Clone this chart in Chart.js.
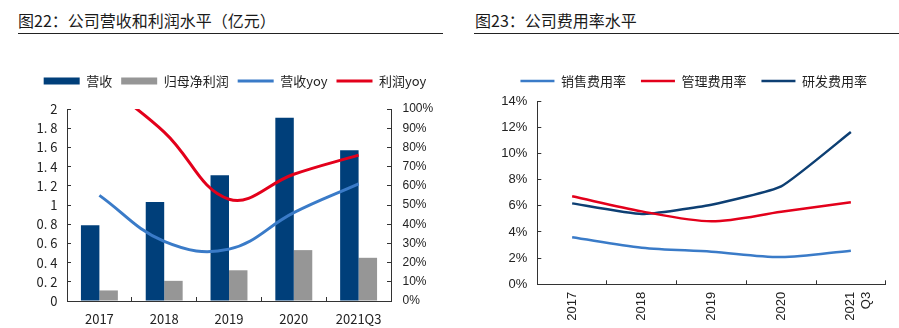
<!DOCTYPE html>
<html>
<head>
<meta charset="utf-8">
<script src="https://cdn.jsdelivr.net/npm/chart.js@4.4.1/dist/chart.umd.min.js"></script>
<style>
  body { margin: 0; background: #fff; width: 899px; height: 328px; position: relative; overflow: hidden; font-family: "Noto Sans CJK SC", sans-serif; }
  .title { position: absolute; top: 8px; font-size: 16px; color: #1a1a1a; white-space: nowrap; }
  .rule { position: absolute; top: 33px; height: 0; border-top: 1.5px solid #222; }
  .box { position: absolute; top: 40px; }
</style>
</head>
<body>
<div class="title" style="left:18px">图22：公司营收和利润水平（亿元）</div>
<div class="rule" style="left:18px;width:425px"></div>
<div class="title" style="left:475px">图23：公司费用率水平</div>
<div class="rule" style="left:474px;width:425px"></div>

<div class="box" style="left:0;width:450px;height:288px"><canvas id="left" width="450" height="288"></canvas></div>
<div class="box" style="left:450px;width:449px;height:288px"><canvas id="right" width="449" height="288"></canvas></div>

<script>
// 图22 data
const years = ['2017', '2018', '2019', '2020', '2021Q3'];
const revenue = [0.79, 1.03, 1.31, 1.91, 1.57];
const netProfit = [0.11, 0.21, 0.32, 0.53, 0.45];
const revenueYoy = [0.55, 0.31, 0.27, 0.46, 0.61];
const profitYoy = [1.15, 0.88, 0.53, 0.66, 0.76];

// 图23 data
const expYears = ['2017', '2018', '2019', '2020', ['2021', 'Q3']];
const salesRate = [0.0359, 0.0279, 0.0249, 0.0208, 0.0257];
const adminRate = [0.0672, 0.0557, 0.0481, 0.0554, 0.0626];
const rdRate = [0.0618, 0.0537, 0.0608, 0.0748, 0.1163];

const navy = '#003f7a';
const grey = '#969696';
const blue = '#3a7bc8';
const red = '#e3001b';
const darkBlue = '#0d3f73';
const axisColor = '#333';
const cjk = '"Noto Sans CJK SC", sans-serif';
const arial = '"Liberation Sans", Arial, sans-serif';

Chart.defaults.animation = false;
Chart.defaults.color = '#222';

// empty top axis, only used to push the plot area down under the legend
const spacer = h => ({
  type: 'category', position: 'top',
  grid: { display: false }, border: { display: false }, ticks: { display: false },
  afterFit: s => { s.height = h; }
});

new Chart(document.getElementById('left'), {
  type: 'bar',
  data: {
    labels: years,
    datasets: [
      { label: '营收', data: revenue, backgroundColor: navy, pointStyle: 'rect', order: 1, xAxisID: 'x', yAxisID: 'y' },
      { label: '归母净利润', data: netProfit, backgroundColor: grey, pointStyle: 'rect', order: 1, xAxisID: 'x', yAxisID: 'y' },
      { label: '营收yoy', type: 'line', data: revenueYoy, borderColor: blue, borderWidth: 3, tension: 0.4,
        pointRadius: 0, pointBorderWidth: 3, pointStyle: 'line', order: 0, xAxisID: 'x', yAxisID: 'y1' },
      { label: '利润yoy', type: 'line', data: profitYoy, borderColor: red, borderWidth: 3, tension: 0.4,
        pointRadius: 0, pointBorderWidth: 3, pointStyle: 'line', order: 0, xAxisID: 'x', yAxisID: 'y1' }
    ]
  },
  options: {
    responsive: false,
    layout: { padding: { top: 25.5, left: 20, right: 0, bottom: 0 } },
    datasets: { bar: { barPercentage: 1, categoryPercentage: 0.57 } },
    plugins: {
      tooltip: { enabled: false },
      legend: {
        labels: {
          font: { family: cjk, size: 13 }, color: '#222', usePointStyle: true, pointStyleWidth: 36, boxHeight: 7, padding: 9,
          sort: (a, b) => a.datasetIndex - b.datasetIndex
        }
      }
    },
    scales: {
      xTop: spacer(11.5),
      x: {
        grid: { display: true, drawOnChartArea: false, tickLength: -4, color: axisColor, offset: true },
        border: { color: axisColor, width: 1 },
        ticks: { font: { family: cjk, size: 13 }, color: '#222', padding: 14, maxRotation: 0 },
        afterFit: s => { s.height = 27; }
      },
      y: {
        min: 0, max: 2,
        grid: { display: true, drawOnChartArea: false, tickLength: -4, color: axisColor },
        border: { color: axisColor, width: 1 },
        ticks: {
          stepSize: 0.2, padding: 13.5, font: { family: cjk, size: 13 }, color: '#222',
          callback: v => Number.isInteger(Math.round(v * 10) / 10) ? String(Math.round(v)) : (Math.round(v * 10) / 10).toFixed(1).replace('.', '. ')
        },
        afterFit: s => { s.width = 47; }
      },
      y1: {
        position: 'right', min: 0, max: 1,
        grid: { display: true, drawOnChartArea: false, tickLength: -4, color: axisColor },
        border: { color: axisColor, width: 1 },
        ticks: { stepSize: 0.1, padding: 15.5, font: { family: arial, size: 12 }, color: '#222', callback: v => Math.round(v * 100) + '%' },
        afterFit: s => { s.width = 59; }
      }
    }
  }
});

new Chart(document.getElementById('right'), {
  type: 'line',
  data: {
    labels: expYears,
    datasets: [
      { label: '销售费用率', data: salesRate, borderColor: blue, borderWidth: 2.5, tension: 0.3,
        pointRadius: 0, pointBorderWidth: 2.5, pointStyle: 'line', xAxisID: 'x' },
      { label: '管理费用率', data: adminRate, borderColor: red, borderWidth: 2.5, tension: 0.3,
        pointRadius: 0, pointBorderWidth: 2.5, pointStyle: 'line', xAxisID: 'x' },
      { label: '研发费用率', data: rdRate, borderColor: darkBlue, borderWidth: 2.5, tension: 0.15,
        pointRadius: 0, pointBorderWidth: 2.5, pointStyle: 'line', xAxisID: 'x' }
    ]
  },
  options: {
    responsive: false,
    layout: { padding: { top: 19.5, left: 51.7, right: 13.3, bottom: 0 } },
    plugins: {
      tooltip: { enabled: false },
      legend: {
        labels: { font: { family: cjk, size: 13 }, color: '#222', usePointStyle: true, pointStyleWidth: 34, boxHeight: 7, padding: 15 }
      }
    },
    scales: {
      xTop: spacer(3.5),
      x: {
        offset: true,
        grid: { display: true, drawOnChartArea: false, tickLength: -4, color: axisColor, offset: true },
        border: { color: axisColor, width: 1 },
        ticks: { font: { family: arial, size: 13 }, color: '#222', padding: 11.5, minRotation: 90, maxRotation: 90, autoSkip: false },
        afterFit: s => { s.height = 43.7; }
      },
      y: {
        min: 0, max: 0.14,
        grid: { display: true, drawOnChartArea: false, tickLength: -4, color: axisColor },
        border: { color: axisColor, width: 1 },
        ticks: { stepSize: 0.02, padding: 14, font: { family: arial, size: 13 }, color: '#222', callback: v => Math.round(v * 100) + '%' },
        afterFit: s => { s.width = 35.6; }
      }
    }
  }
});
</script>
</body>
</html>
